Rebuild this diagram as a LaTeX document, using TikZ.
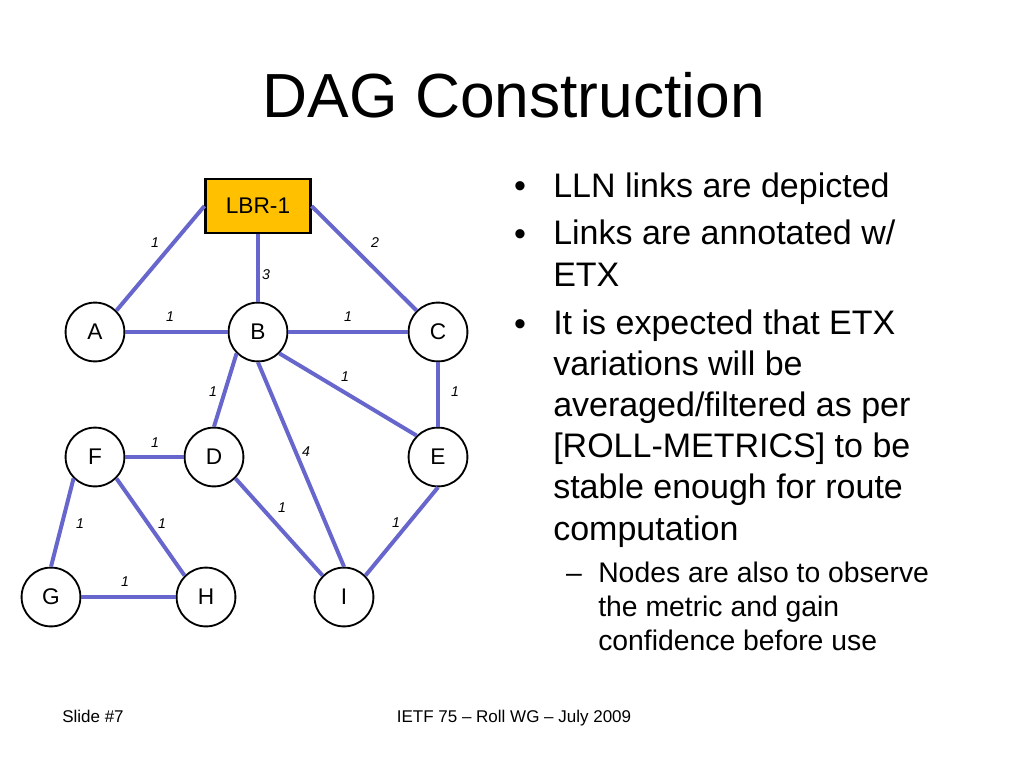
\documentclass[tikz,border=0pt]{standalone}
\usepackage{fontspec}
\setmainfont{Liberation Sans}
\usepackage{tikz}
\usetikzlibrary{positioning}
\usetikzlibrary{shapes}
\usetikzlibrary{calc}
\definecolor{linkblue}{RGB}{102,102,204}
\definecolor{lbrgold}{RGB}{255,192,0}
\tikzstyle{link}    = [line width=2.8pt, linkblue]
\tikzstyle{station} = [draw, circle, line width=1.3pt, minimum size=1.46cm, inner sep=0pt, fill=white, font=\fontsize{16}{19}\selectfont]
\tikzstyle{router}  = [draw, rectangle, line width=1.6pt, minimum width=2.6cm, minimum height=1.33cm, inner sep=0pt, fill=lbrgold, font=\fontsize{16}{19}\selectfont]
\tikzstyle{etx}     = [inner sep=0pt, font=\fontsize{10}{12}\selectfont\itshape]
\tikzstyle{bodytxt} = [inner sep=0pt, align=left, font=\fontsize{24}{29}\selectfont]
\tikzstyle{subtxt}  = [inner sep=0pt, align=left, font=\fontsize{20}{24}\selectfont]
\tikzstyle{foot}    = [inner sep=0pt, font=\fontsize{12}{14}\selectfont]

\begin{document}
\begin{tikzpicture}[x=0.024805cm, y=-0.024805cm]
                    \path[fill=white] (0,0) rectangle (1024,768);
                    \useasboundingbox (0,0) rectangle (1024,768);
                    \node at (514,117) [anchor=base,inner sep=0pt,font=\fontsize{44}{53}\selectfont] (nTitle) {DAG Construction};
                    % the graph
                    \node at (258,206) [router ] (nLBR) {LBR-1};
                    \node at ( 95,332) [station] (nA)   {A};
                    \node at (258,332) [station] (nB)   {B};
                    \node at (438,332) [station] (nC)   {C};
                    \node at ( 95,457) [station] (nF)   {F};
                    \node at (214,457) [station] (nD)   {D};
                    \node at (438,457) [station] (nE)   {E};
                    \node at ( 51,597) [station] (nG)   {G};
                    \node at (206,597) [station] (nH)   {H};
                    \node at (344,597) [station] (nI)   {I};
                    \draw[link] (nLBR.west)  to (nA.45)    ;
                    \draw[link] (nLBR.south) to (nB.north) ;
                    \draw[link] (nLBR.east)  to (nC.135)   ;
                    \draw[link] (nA.east)    to (nB.west)  ;
                    \draw[link] (nB.east)    to (nC.west)  ;
                    \draw[link] (nB.225)     to (nD.north) ;
                    \draw[link] (nB.south)   to (nI.north) ;
                    \draw[link] (nB.-45)     to (nE.135)   ;
                    \draw[link] (nC.south)   to (nE.north) ;
                    \draw[link] (nF.east)    to (nD.west)  ;
                    \draw[link] (nF.225)     to (nG.north) ;
                    \draw[link] (nF.-45)     to (nH.135)   ;
                    \draw[link] (nD.-45)     to (nI.135)   ;
                    \draw[link] (nE.south)   to (nI.45)    ;
                    \draw[link] (nG.east)    to (nH.west)  ;
                    % ETX weights
                    \node at (155,243) [etx] (wLA) {1};
                    \node at (266,275) [etx] (wLB) {3};
                    \node at (375,243) [etx] (wLC) {2};
                    \node at (170,317) [etx] (wAB) {1};
                    \node at (348,317) [etx] (wBC) {1};
                    \node at (213,392) [etx] (wBD) {1};
                    \node at (345,377) [etx] (wBE) {1};
                    \node at (455,392) [etx] (wCE) {1};
                    \node at (155,443) [etx] (wFD) {1};
                    \node at (306,452) [etx] (wBI) {4};
                    \node at (282,508) [etx] (wDI) {1};
                    \node at (396,523) [etx] (wEI) {1};
                    \node at ( 80,524) [etx] (wFG) {1};
                    \node at (162,524) [etx] (wFH) {1};
                    \node at (125,582) [etx] (wGH) {1};
                    % bullets (base = last line)
                    \node at (520,197) [anchor=base,bodytxt] (nDot1) {•};
                    \node at (520,245) [anchor=base,bodytxt] (nDot2) {•};
                    \node at (520,335) [anchor=base,bodytxt] (nDot3) {•};
                    \node at (553,197) [anchor=base west,bodytxt] (nItem1) {LLN links are depicted};
                    \node at (553,286) [anchor=base west,bodytxt] (nItem2) {Links are annotated w/\\ETX};
                    \node at (553,540) [anchor=base west,bodytxt] (nItem3) {It is expected that ETX\\variations will be\\averaged/filtered as per\\{[}ROLL-METRICS{]} to be\\stable enough for route\\computation};
                    \node at (574,582) [anchor=base,subtxt]       (nDash)  {–};
                    \node at (598,650) [anchor=base west,subtxt]  (nSub)   {Nodes are also to observe\\the metric and gain\\confidence before use};
                    % footer
                    \node at ( 62,722) [anchor=base west,foot] (nSlide) {Slide \#7};
                    \node at (514,722) [anchor=base,foot]      (nConf)  {IETF 75 – Roll WG – July 2009};
\end{tikzpicture}
\end{document}
